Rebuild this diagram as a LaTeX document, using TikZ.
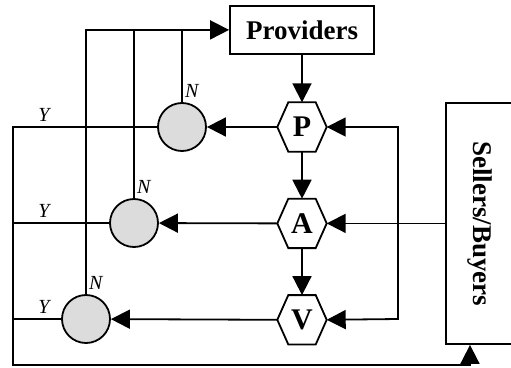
\documentclass[tikz,border=0pt]{standalone}
\usepackage{fontspec}
\setmainfont{Liberation Serif}
\usetikzlibrary{arrows.meta, positioning}
\definecolor{dotgray}{RGB}{220,220,220}
\tikzstyle{box} = [rectangle, draw=black, line width=1.8pt, inner sep=0pt, text centered, font=\fontsize{27}{31}\selectfont\bfseries]
\tikzstyle{hexa} = [rectangle, minimum width=49pt, minimum height=49pt, inner sep=0pt, font=\fontsize{30}{34}\selectfont\bfseries]
\tikzstyle{dot} = [circle, draw=black, fill=dotgray, line width=1.8pt, minimum size=48pt, inner sep=0pt]
\tikzstyle{lbl} = [inner sep=0pt, font=\fontsize{20}{23}\selectfont\itshape]
\tikzstyle{wire} = [line width=1.8pt, line cap=rect]
\tikzstyle{arrow} = [wire, -{Triangle[length=19pt, width=19pt]}]
\newcommand{\hexframe}[1]{\draw[wire] (#1.west) -- ([xshift=11pt]#1.north west) -- ([xshift=-11pt]#1.north east) -- (#1.east) -- ([xshift=-11pt]#1.south east) -- ([xshift=11pt]#1.south west) -- cycle;}
\begin{document}
\begin{tikzpicture}[x=1pt, y=-1pt]
          \useasboundingbox (0,0) rectangle (511,367);
          \node (hP) [hexa] at (302,127) {P};
          \node (hA) [hexa, below=47pt of hP] {A};
          \node (hV) [hexa, below=47pt of hA] {V};
          \node (prov) [box, minimum width=144pt, minimum height=48pt, above=47.5pt of hP] {Providers};
          \node (c1) [dot] at (182,127) {};
          \node (c2) [dot] at (134,223) {};
          \node (c3) [dot] at (86,319) {};
          \node (sb) [box, minimum width=68pt, minimum height=241pt] at (480,223.5) {\rotatebox{-90}{Sellers/Buyers}};
          \hexframe{hP}
          \hexframe{hA}
          \hexframe{hV}
          \coordinate (ytop) at (13,127);
          \coordinate (ybot) at (13,365);
          \coordinate (rtop) at (398,127);
          \coordinate (rbot) at (398,319);
          % N labels and Y labels
          \node (n1) [lbl, above right=4pt and 3pt of c1.north] {N};
          \node (n2) [lbl, above right=4pt and 3pt of c2.north] {N};
          \node (n3) [lbl, above right=4pt and 3pt of c3.north] {N};
          \node (y1) [lbl, above=5pt of ytop, xshift=31pt] {Y};
          \node (y2) [lbl, above=5pt of ytop |- c2, xshift=31pt] {Y};
          \node (y3) [lbl, above=5pt of ytop |- c3, xshift=31pt] {Y};
          % flow down the middle
          \draw [arrow] (prov) -- (hP);
          \draw [arrow] (hP) -- (hA);
          \draw [arrow] (hA) -- (hV);
          \draw [arrow] (hP.west) -- (c1);
          \draw [arrow] (hA.west) -- (c2);
          \draw [arrow] (hV.west) -- (c3);
          % N branches back to the providers
          \draw [arrow] (c3.north) |- (prov.west);
          \draw [wire] (c2.north) -- (c2.north |- prov.west);
          \draw [wire] (c1.north) -- (c1.north |- prov.west);
          % Y branches to the sellers/buyers
          \draw [arrow] (c1.west) -- (ytop) -- (ybot) -| ([xshift=-10pt]sb.south);
          \draw [wire] (c2.west) -- (c2.west -| ytop);
          \draw [wire] (c3.west) -- (c3.west -| ytop);
          % sellers/buyers and the loop on the right
          \draw [arrow] (sb.west |- hA.east) -- (hA.east);
          \draw [arrow] (rtop) -- (hP.east);
          \draw [arrow] (rtop) -- (rbot) -- (hV.east);
        \end{tikzpicture}
\end{document}
